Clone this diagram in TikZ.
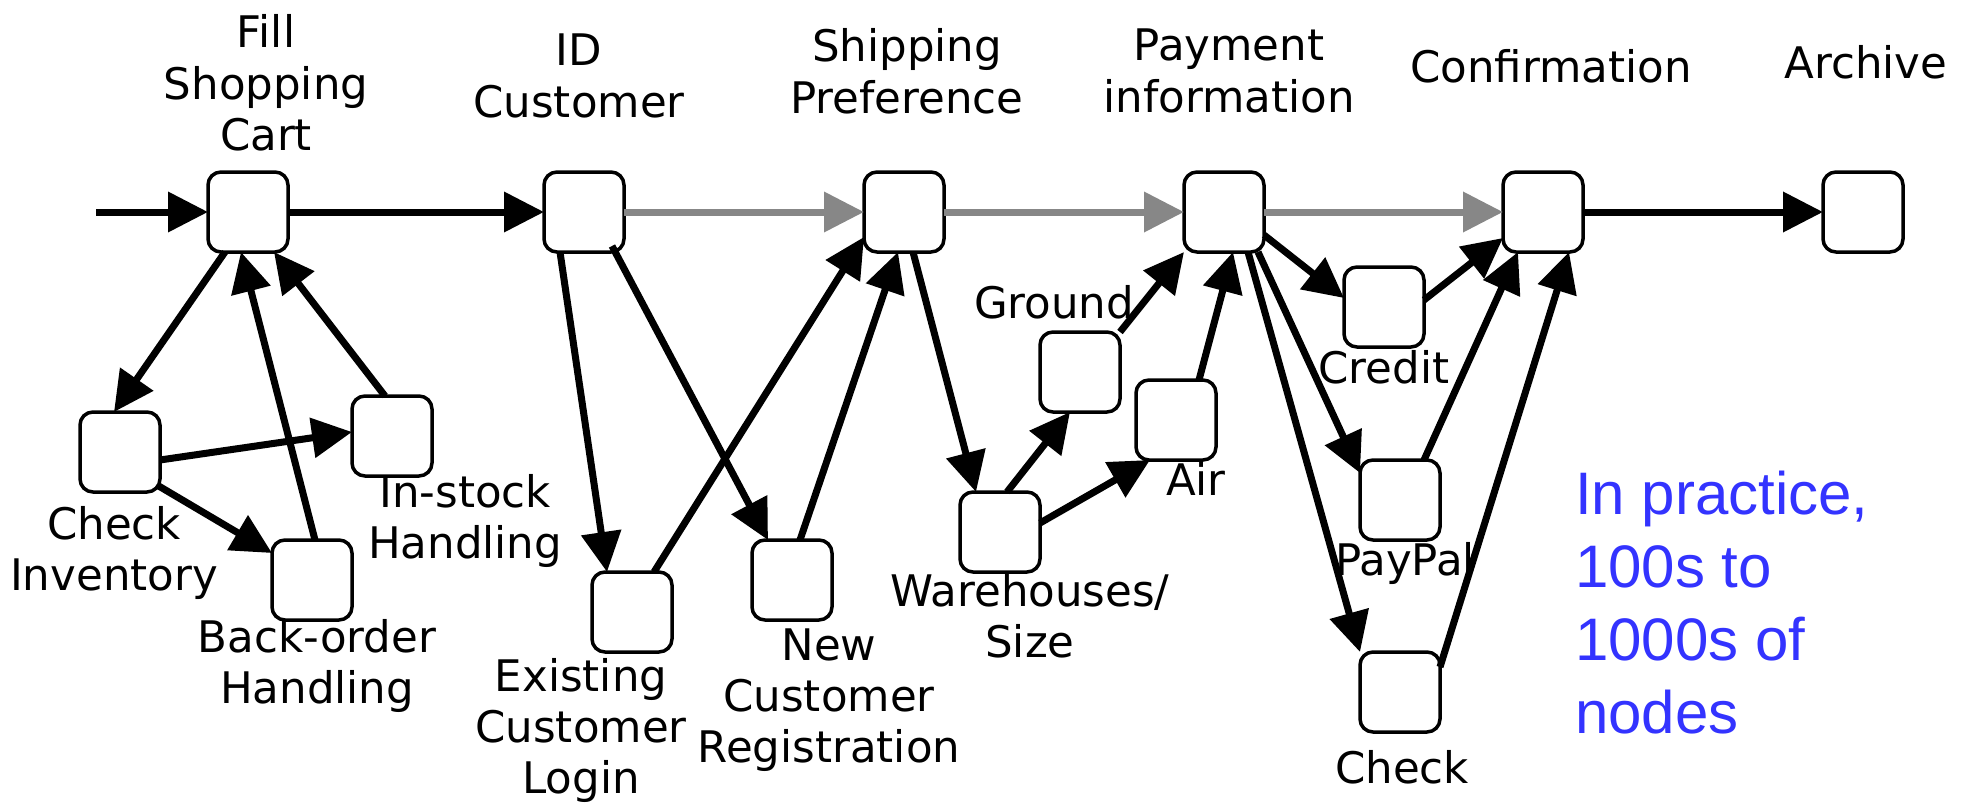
\documentclass[tikz,border=0pt]{standalone}
\usepackage{fontspec}
\setmainfont{DejaVu Sans}
\newfontfamily\notefont{Liberation Sans}
\usetikzlibrary{arrows.meta,calc}
\definecolor{flowgray}{gray}{0.53}
\definecolor{noteblue}{RGB}{51,51,255}

\begin{document}
\begin{tikzpicture}[x=1bp,y=-1bp,
  box/.style={draw, line width=3.5bp, rounded corners=13bp, minimum width=80bp,
    minimum height=80bp, inner sep=0pt, outer sep=0pt},
  % labels are placed by the baseline of their last line
  lbl/.style={font=\fontsize{43.5bp}{51bp}\selectfont, align=center, inner sep=0pt, anchor=base},
  link/.style={line width=7bp, -{Triangle[length=40bp,width=39bp]}},
  soft/.style={link, color=flowgray},
  note/.style={font=\notefont\fontsize{60bp}{73bp}\selectfont, text=noteblue,
    align=left, inner sep=0pt, anchor=base west}]
\useasboundingbox (0,0) rectangle (1969,803);

% main stages
\node[box] (fill)   at (248,212) {};
\node[box] (id)     at (584,212) {};
\node[box] (ship)   at (904,212) {};
\node[box] (pay)    at (1224,212) {};
\node[box] (conf)   at (1543,212) {};
\node[box] (arch)   at (1863,212) {};
% sub-steps
\node[box] (chk)     at (120,452) {};
\node[box] (instock) at (392,436) {};
\node[box] (back)    at (312,580) {};
\node[box] (exist)   at (632,612) {};
\node[box] (newreg)  at (792,580) {};
\node[box] (wh)      at (1000,532) {};
\node[box] (ground)  at (1080,372) {};
\node[box] (air)     at (1176,420) {};
\node[box] (credit)  at (1384,307) {};
\node[box] (paypal)  at (1400,500) {};
\node[box] (check)   at (1400,692) {};

% stage titles
\node[lbl] (tfill) at (266,150)  {Fill\\Shopping\\Cart};
\node[lbl] (tid)   at (579,117)  {ID\\Customer};
\node[lbl] (tship) at (907,113)  {Shipping\\Preference};
\node[lbl] (tpay)  at (1229,112) {Payment\\information};
\node[lbl] (tconf) at (1551,83)  {Confirmation};
\node[lbl] (tarch) at (1866,79)  {Archive};
% sub-step labels
\node[lbl] (lchk)    at (114,590)  {Check\\Inventory};
\node[lbl] (linst)   at (465,558)  {In-stock\\Handling};
\node[lbl] (lback)   at (317,703)  {Back-order\\Handling};
\node[lbl] (lexist)  at (581,793)  {Existing\\Customer\\Login};
\node[lbl] (lnew)    at (829,762)  {New\\Customer\\Registration};
\node[lbl] (lwh)     at (1030,657) {Warehouses/\\Size};
\node[lbl] (lground) at (1054,318) {Ground};
\node[lbl] (lair)    at (1196,495) {Air};
\node[lbl] (lcredit) at (1384,383) {Credit};
\node[lbl] (lpaypal) at (1405,575) {PayPal};
\node[lbl] (lcheck)  at (1402,783) {Check};

\node[note] (remark) at (1575,733) {In practice,\\100s to\\1000s of\\nodes};

% main flow
\coordinate (entry) at (96,212);
\draw[link] (entry) -- (fill.west);
\draw[link] (fill.east) -- (id.west);
\draw[soft] (id.east) -- (ship.west);
\draw[soft] (ship.east) -- (pay.west);
\draw[soft] (pay.east) -- (conf.west);
\draw[link] (conf.east) -- (arch.west);

% shopping cart
\draw[link] ($(fill.south)+(-23,0)$) -- ($(chk.north)+(-6,0)$);
\draw[link] ($(back.north)+(3,0)$) -- ($(fill.south)+(-7,0)$);
\draw[link] ($(instock.north)+(-7,0)$) -- ($(fill.south)+(26,0)$);
\draw[link] ($(chk.east)+(0,8)$) -- ($(instock.west)+(0,-4)$);
\draw[link] ($(chk)+(37,33)$) -- ($(back.west)+(0,-27)$);

% customer identification
\draw[link] ($(id.south)+(-24,0)$) -- ($(exist.north)+(-25,0)$);
\draw[link] ($(id.south)+(28,-6)$) -- ($(newreg.north)+(-24,0)$);
\draw[link] ($(exist.north)+(22,0)$) -- ($(ship.west)+(0,25)$);
\draw[link] ($(newreg.north)+(8,0)$) -- ($(ship.south)+(-6,0)$);

% shipping
\draw[link] ($(ship.south)+(9,0)$) -- ($(wh.north)+(-24,0)$);
\draw[link] ($(wh.north)+(7,0)$) -- ($(ground.south)+(-10,0)$);
\draw[link] ($(wh.east)+(0,-9)$) -- ($(air.south)+(-26,0)$);
\draw[link] (ground.north east) -- (pay.south west);
\draw[link] ($(air.north)+(23,0)$) -- ($(pay.south)+(9,0)$);

% payment
\draw[link] ($(pay.east)+(0,23)$) -- ($(credit.west)+(0,-9)$);
\draw[link] ($(pay.south)+(34,0)$) -- ($(paypal.west)+(0,-27)$);
\draw[link] ($(pay.south)+(24,0)$) -- (check.north west);
\draw[link] ($(credit.east)+(0,-7)$) -- ($(conf.west)+(0,26)$);
\draw[link] ($(paypal.north)+(24,0)$) -- ($(conf.south)+(-25,0)$);
\draw[link] ($(check.east)+(0,-25)$) -- ($(conf.south)+(26,0)$);
\end{tikzpicture}
\end{document}
